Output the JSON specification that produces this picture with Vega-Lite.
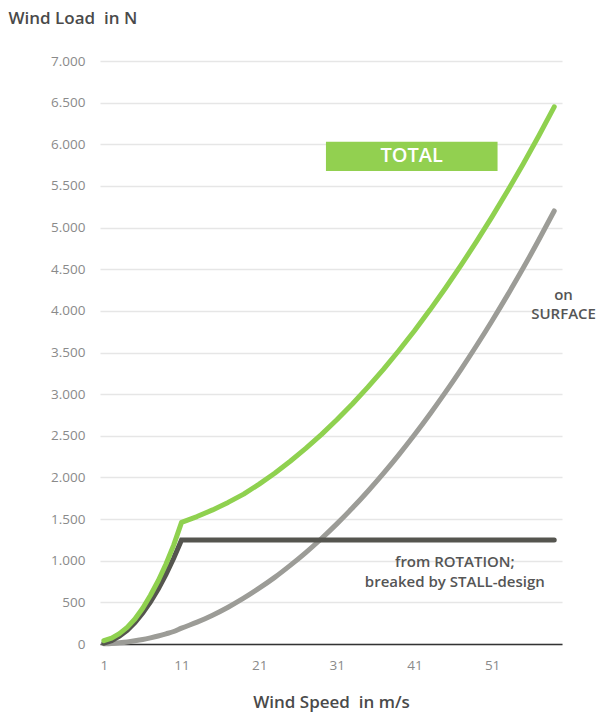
{
  "$schema": "https://vega.github.io/schema/vega-lite/v6.json",
  "width": 462,
  "height": 583,
  "autosize": {"type": "none"},
  "padding": {"left": 100, "top": 61, "right": 37, "bottom": 70},
  "background": "white",
  "config": {
    "font": "Open Sans",
    "view": {"stroke": null}
  },
  "datasets": {
    "curves": [
      {"speed": 1, "rotation": 10, "surface": 2},
      {"speed": 2, "rotation": 41, "surface": 6},
      {"speed": 3, "rotation": 93, "surface": 14},
      {"speed": 4, "rotation": 165, "surface": 24},
      {"speed": 5, "rotation": 258, "surface": 38},
      {"speed": 6, "rotation": 372, "surface": 54},
      {"speed": 7, "rotation": 506, "surface": 74},
      {"speed": 8, "rotation": 661, "surface": 96},
      {"speed": 9, "rotation": 837, "surface": 122},
      {"speed": 10, "rotation": 1033, "surface": 150},
      {"speed": 11, "rotation": 1250, "surface": 190},
      {"speed": 13, "rotation": 1250, "surface": 262},
      {"speed": 15, "rotation": 1250, "surface": 346},
      {"speed": 17, "rotation": 1250, "surface": 442},
      {"speed": 19, "rotation": 1250, "surface": 550},
      {"speed": 21, "rotation": 1250, "surface": 670},
      {"speed": 23, "rotation": 1250, "surface": 800},
      {"speed": 25, "rotation": 1250, "surface": 944},
      {"speed": 27, "rotation": 1250, "surface": 1098},
      {"speed": 29, "rotation": 1250, "surface": 1264},
      {"speed": 31, "rotation": 1250, "surface": 1442},
      {"speed": 33, "rotation": 1250, "surface": 1632},
      {"speed": 35, "rotation": 1250, "surface": 1834},
      {"speed": 37, "rotation": 1250, "surface": 2048},
      {"speed": 39, "rotation": 1250, "surface": 2274},
      {"speed": 41, "rotation": 1250, "surface": 2512},
      {"speed": 43, "rotation": 1250, "surface": 2762},
      {"speed": 45, "rotation": 1250, "surface": 3024},
      {"speed": 47, "rotation": 1250, "surface": 3298},
      {"speed": 49, "rotation": 1250, "surface": 3584},
      {"speed": 51, "rotation": 1250, "surface": 3882},
      {"speed": 53, "rotation": 1250, "surface": 4192},
      {"speed": 55, "rotation": 1250, "surface": 4514},
      {"speed": 57, "rotation": 1250, "surface": 4850},
      {"speed": 59, "rotation": 1250, "surface": 5200}
    ],
    "totalcurve": [
      {"speed": 1, "total": 40},
      {"speed": 2, "total": 70},
      {"speed": 3, "total": 125},
      {"speed": 4, "total": 200},
      {"speed": 5, "total": 300},
      {"speed": 6, "total": 430},
      {"speed": 7, "total": 585},
      {"speed": 8, "total": 760},
      {"speed": 9, "total": 960},
      {"speed": 10, "total": 1190},
      {"speed": 11, "total": 1460},
      {"speed": 13, "total": 1530},
      {"speed": 15, "total": 1610},
      {"speed": 17, "total": 1700},
      {"speed": 19, "total": 1800},
      {"speed": 21, "total": 1920},
      {"speed": 23, "total": 2050},
      {"speed": 25, "total": 2194},
      {"speed": 27, "total": 2348},
      {"speed": 29, "total": 2514},
      {"speed": 31, "total": 2692},
      {"speed": 33, "total": 2882},
      {"speed": 35, "total": 3084},
      {"speed": 37, "total": 3298},
      {"speed": 39, "total": 3524},
      {"speed": 41, "total": 3762},
      {"speed": 43, "total": 4012},
      {"speed": 45, "total": 4274},
      {"speed": 47, "total": 4548},
      {"speed": 49, "total": 4834},
      {"speed": 51, "total": 5132},
      {"speed": 53, "total": 5442},
      {"speed": 55, "total": 5764},
      {"speed": 57, "total": 6100},
      {"speed": 59, "total": 6450}
    ],
    "box": [{"x1": 29.6, "x2": 51.7, "y1": 5680, "y2": 6030, "xm": 40.65, "ym": 5855, "label": "TOTAL"}],
    "notes": [
      {"speed": 60.2, "load": 4195, "label": "on"},
      {"speed": 60.2, "load": 3960, "label": "SURFACE"},
      {"speed": 46.2, "load": 980, "label": "from ROTATION;"},
      {"speed": 46.2, "load": 748, "label": "breaked by STALL-design"}
    ]
  },
  "encoding": {},
  "layer": [
    {
      "data": {"name": "curves"},
      "mark": {"type": "line", "color": "#9c9c97", "strokeWidth": 5, "strokeCap": "round", "strokeJoin": "round", "interpolate": "monotone"},
      "encoding": {
        "x": {
          "field": "speed", "type": "quantitative",
          "scale": {"domain": [0.5, 60], "nice": false, "zero": false},
          "axis": {
            "values": [1, 11, 21, 31, 41, 51],
            "title": "Wind Speed\u00a0\u00a0in m/s",
            "titleFont": "Open Sans", "titleFontSize": 17, "titleFontWeight": 600, "titleColor": "#4a4a4a",
            "titleBaseline": "middle", "titleY": 58,
            "grid": false, "ticks": false,
            "domainColor": "#333333", "domainWidth": 1.5,
            "labelFont": "Open Sans", "labelFontSize": 13.5, "labelColor": "#8a8a8a", "labelPadding": 14
          }
        },
        "y": {
          "field": "surface", "type": "quantitative",
          "scale": {"domain": [0, 7000], "nice": false},
          "axis": {
            "values": [0, 500, 1000, 1500, 2000, 2500, 3000, 3500, 4000, 4500, 5000, 5500, 6000, 6500, 7000],
            "labelExpr": "replace(format(datum.value, ','), ',', '.')",
            "title": "Wind Load\u00a0\u00a0in N",
            "titleAngle": 0, "titleAlign": "left", "titleBaseline": "middle",
            "titleX": -92, "titleY": -43,
            "titleFont": "Open Sans", "titleFontSize": 17, "titleFontWeight": 600, "titleColor": "#4a4a4a",
            "domain": false, "ticks": false,
            "gridColor": "#e6e6e6", "gridWidth": 1.5,
            "labelFont": "Open Sans", "labelFontSize": 13.5, "labelColor": "#8a8a8a", "labelPadding": 15
          }
        }
      }
    },
    {
      "data": {"name": "curves"},
      "mark": {"type": "line", "color": "#55554f", "strokeWidth": 5, "strokeCap": "round", "strokeJoin": "miter", "interpolate": "linear"},
      "encoding": {
        "x": {"field": "speed", "type": "quantitative"},
        "y": {"field": "rotation", "type": "quantitative"}
      }
    },
    {
      "data": {"name": "totalcurve"},
      "mark": {"type": "line", "color": "#8fd14f", "strokeWidth": 5, "strokeCap": "round", "strokeJoin": "round", "interpolate": "linear"},
      "encoding": {
        "x": {"field": "speed", "type": "quantitative"},
        "y": {"field": "total", "type": "quantitative"}
      }
    },
    {
      "data": {"name": "box"},
      "mark": {"type": "rect", "color": "#92d050"},
      "encoding": {
        "x": {"field": "x1", "type": "quantitative"},
        "x2": {"field": "x2"},
        "y": {"field": "y1", "type": "quantitative"},
        "y2": {"field": "y2"}
      }
    },
    {
      "data": {"name": "box"},
      "mark": {"type": "text", "color": "white", "fontSize": 20, "fontWeight": 600, "font": "Open Sans", "align": "center", "baseline": "middle"},
      "encoding": {
        "x": {"field": "xm", "type": "quantitative"},
        "y": {"field": "ym", "type": "quantitative"},
        "text": {"field": "label"}
      }
    },
    {
      "data": {"name": "notes"},
      "mark": {"type": "text", "color": "#555555", "fontSize": 15, "fontWeight": 600, "font": "Open Sans", "align": "center", "baseline": "middle"},
      "encoding": {
        "x": {"field": "speed", "type": "quantitative"},
        "y": {"field": "load", "type": "quantitative"},
        "text": {"field": "label"}
      }
    }
  ]
}
